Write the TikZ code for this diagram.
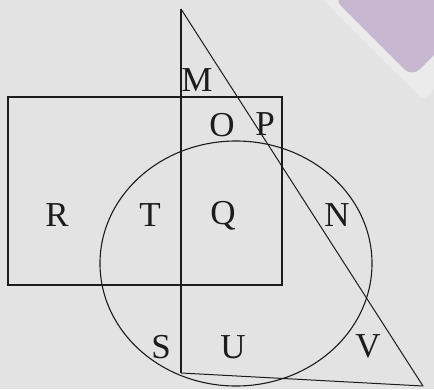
\documentclass[tikz,border=0pt]{standalone}
\usepackage{fontspec}
\setmainfont{Liberation Serif}
\definecolor{bggray}{HTML}{E3E3E3}
\definecolor{halo}{HTML}{EBEBEB}
\definecolor{lilac}{HTML}{C8B8CF}
\definecolor{ink}{HTML}{1C1C1C}

\begin{document}
\begin{tikzpicture}[x=1pt,y=-1pt,
    lbl/.style={font=\fontsize{35}{35}\selectfont, text=ink, inner sep=0pt}]
\fill[bggray] (0,0) rectangle (434,389);
\useasboundingbox (0,0) rectangle (434,389);
\begin{scope}
  \clip (0,0) rectangle (434,389);
  \fill[halo, rounded corners=4pt] (321,-2) -- (423,100) -- (530,-7) -- cycle;
  \fill[lilac, rounded corners=11pt] (333,-2) -- (412,77) -- (500,-11) -- cycle;
\end{scope}

\coordinate (top) at (181,9);
\coordinate (foot) at (181,373);
\coordinate (tip) at (423,386);
\draw[ink, line width=1.8pt] (8,97) rectangle (282,285);
\draw[ink, line width=1.8pt] (top) -- (foot);
\draw[ink, line width=1pt, line join=round] (top) -- (tip) -- (foot);
\draw[ink, line width=1.1pt] (236,263.5) ellipse [x radius=136, y radius=122.5];

\node[lbl] (m) at (197,80) {M};
\node[lbl] (o) at (222,125) {O};
\node[lbl] (p) at (265,124) {P};
\node[lbl] (r) at (57,215) {R};
\node[lbl] (t) at (150,215) {T};
\node[lbl] (q) at (223,216) {Q};
\node[lbl] (n) at (337,215) {N};
\node[lbl] (s) at (161,347) {S};
\node[lbl] (u) at (233,347) {U};
\node[lbl] (v) at (368,346) {V};
\end{tikzpicture}
\end{document}
